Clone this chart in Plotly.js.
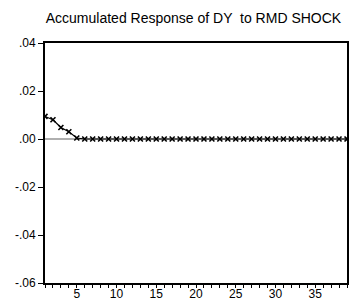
<!DOCTYPE html>
<html><head><meta charset="utf-8">
<script src="https://cdn.plot.ly/plotly-3.0.1.min.js"></script>
<style>body{margin:0;padding:0;background:#fff}#c{width:355px;height:307px}</style>
</head><body><div id="c"></div>
<script>
const periods = Array.from({length: 39}, (_, i) => i + 1);
const response = [0.0094, 0.0080, 0.0048, 0.0030, 0.0004,
  0, 0, 0, 0, 0, 0, 0, 0, 0, 0, 0, 0, 0, 0, 0,
  0, 0, 0, 0, 0, 0, 0, 0, 0, 0, 0, 0, 0, 0, 0, 0, 0, 0, 0];
const yTickVals = [0.04, 0.02, 0, -0.02, -0.04, -0.06];
const yTickText = ['.04', '.02', '.00', '-.02', '-.04', '-.06'];
const xTickVals = [5, 10, 15, 20, 25, 30, 35];
const titleText = 'Accumulated Response of DY  to RMD SHOCK';

const traces = [
  {x: [1, 39], y: [0, 0], mode: 'lines', line: {color: '#606060', width: 1.2}, hoverinfo: 'skip', showlegend: false},
  {x: periods, y: response, mode: 'lines+markers', line: {color: '#000', width: 1.2},
   marker: {symbol: 'x-thin', size: 5, line: {color: '#000', width: 1.6}}, showlegend: false}
];
const layout = {
  width: 355, height: 307,
  margin: {l: 45, r: 8, t: 43, b: 24},
  paper_bgcolor: '#fff', plot_bgcolor: '#fff',
  font: {family: 'Liberation Sans, Arial, sans-serif', size: 12, color: '#000'},
  title: {text: titleText, font: {size: 14, color: '#000'}, x: 0.545, xanchor: 'center', y: 0.942, yanchor: 'middle'},
  xaxis: {range: [1, 39], tickvals: xTickVals, ticks: 'outside', ticklen: 3, tickwidth: 1, tickcolor: '#000',
    ticklabelstandoff: -4,
    showgrid: false, zeroline: false, showline: true, linecolor: '#000', linewidth: 2, mirror: true,
    minor: {dtick: 1, tick0: 0, ticks: 'outside', ticklen: 3, tickcolor: '#000', showgrid: false},
    tickfont: {size: 12}},
  yaxis: {range: [-0.06, 0.04], tickvals: yTickVals, ticktext: yTickText, ticks: 'outside', ticklen: 5, tickwidth: 1,
    tickcolor: '#000', showgrid: false, zeroline: false, showline: true, linecolor: '#000', linewidth: 2, mirror: true,
    tickfont: {size: 12}}
};
Plotly.newPlot('c', traces, layout, {displayModeBar: false, staticPlot: true});
</script></body></html>
